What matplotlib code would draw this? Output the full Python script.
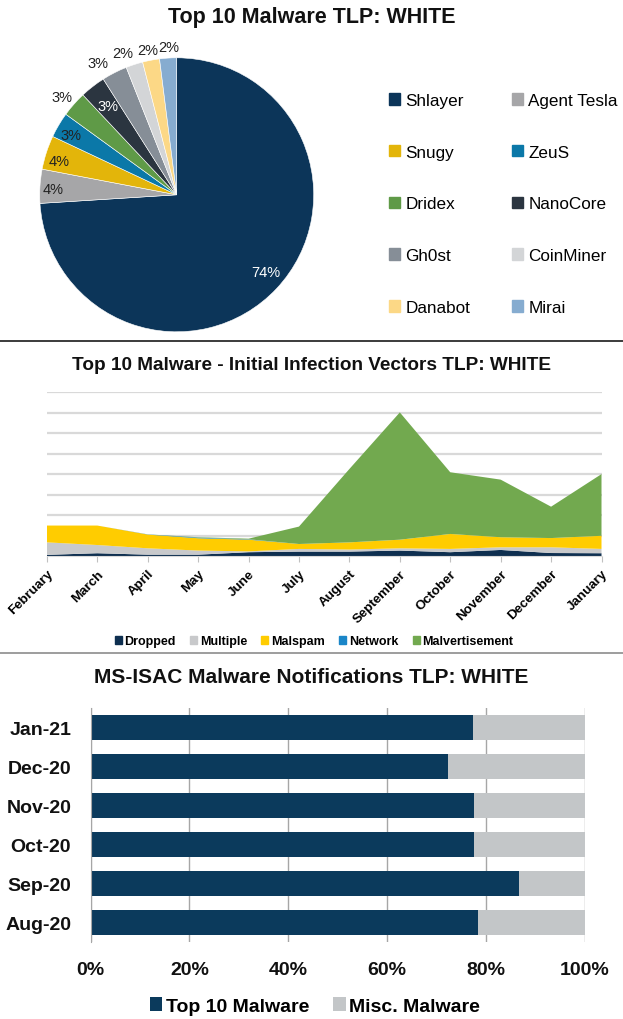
import matplotlib
matplotlib.use('Agg')
import matplotlib.pyplot as plt
import numpy as np
from matplotlib import font_manager
from matplotlib.lines import Line2D
from matplotlib.patches import Patch

# ---- data -------------------------------------------------------------
pie_names = ['Shlayer', 'Agent Tesla', 'Snugy', 'ZeuS', 'Dridex',
             'NanoCore', 'Gh0st', 'CoinMiner', 'Danabot', 'Mirai']
pie_share = [74, 4, 4, 3, 3, 3, 3, 2, 2, 2]
pie_colors = ['#0c3559', '#a6a6a8', '#e3b50a', '#0b78a8', '#5f9a47',
              '#2b3540', '#868e97', '#d3d5d7', '#fcd886', '#86acd0']

months = ['February', 'March', 'April', 'May', 'June', 'July', 'August',
          'September', 'October', 'November', 'December', 'January']
dropped = [0.7, 1.5, 0.8, 0.8, 2.0, 2.3, 2.3, 2.8, 2.0, 3.1, 1.6, 1.5]
multiple = [6.1, 4.0, 3.1, 2.0, 0.4, 1.3, 1.0, 1.1, 1.6, 1.3, 2.8, 2.1]
malspam = [8.2, 9.5, 6.7, 6.0, 5.7, 2.4, 3.5, 4.2, 7.3, 4.9, 4.5, 6.4]
network = [0.0, 0.0, 0.1, 0.3, 0.2, 0.0, 0.0, 0.0, 0.0, 0.0, 0.0, 0.0]
malvert = [0.0, 0.0, 0.0, 0.2, 0.3, 8.5, 35.8, 62.1, 30.1, 28.1, 15.3, 30.1]
vector_names = ['Dropped', 'Multiple', 'Malspam', 'Network', 'Malvertisement']
vector_colors = ['#0e2f50', '#c8c9cb', '#ffcc00', '#1a86c8', '#72a94f']

notif_months = ['Aug-20', 'Sep-20', 'Oct-20', 'Nov-20', 'Dec-20', 'Jan-21']
top10_share = [78.3, 86.6, 77.5, 77.5, 72.3, 77.3]
misc_share = [21.7, 13.4, 22.5, 22.5, 27.7, 22.7]

W, H = 623, 1020


def fx(px):
    return px / W


def fy(py):
    return 1 - py / H


names = set(f.name for f in font_manager.fontManager.ttflist)
reg = 'Liberation Sans' if 'Liberation Sans' in names else 'DejaVu Sans'

fig = plt.figure(figsize=(W / 100, H / 100), dpi=100)
fig.patch.set_facecolor('white')

# ---- pie ---------------------------------------------------------------
cx, cy, r = 176.7, 195.8, 137
ax1 = fig.add_axes([fx(cx - 1.25 * r), fy(cy + 1.25 * r), 2.5 * r / W, 2.5 * r / H])
wedges, texts, autotexts = ax1.pie(pie_share, colors=pie_colors, startangle=90,
                                   counterclock=False, autopct='%d%%',
                                   wedgeprops=dict(edgecolor='white', linewidth=0.4),
                                   textprops=dict(fontsize=10.5, family=reg))
# label radius and small angle nudge, so the small outside labels do not collide
label_r = [0.86, 0.9, 0.89, 0.89, 1.1, 0.82, 1.12, 1.11, 1.08, 1.08]
label_da = [2, 1, 2, 1, 1, 0, 3.7, 2.8, 0.4, -0.7]
for w, t, lr, da in zip(wedges, autotexts, label_r, label_da):
    ang = np.deg2rad((w.theta1 + w.theta2) / 2 + da)
    t.set_position((lr * np.cos(ang), lr * np.sin(ang)))
    t.set_color('#222222')
autotexts[0].set_color('white')
autotexts[5].set_color('white')

fig.text(0.5, fy(17), 'Top 10 Malware TLP: WHITE', ha='center', va='center',
         fontsize=15.5, fontweight='bold', family=reg, color='#111111')

order = [0, 2, 4, 6, 8, 1, 3, 5, 7, 9]
handles = [Patch(color=pie_colors[i]) for i in order]
fig.legend(handles, [pie_names[i] for i in order], loc='upper left',
           bbox_to_anchor=(fx(389), fy(94)), ncol=2, frameon=False,
           prop=dict(family=reg, size=12.3), handlelength=0.65, handleheight=0.65,
           handletextpad=0.3, labelspacing=2.15, columnspacing=2.45,
           borderaxespad=0, borderpad=0)

# separator lines
fig.add_artist(Line2D([0, 1], [fy(342), fy(342)], color='#1a1a1a', lw=1.2))
fig.add_artist(Line2D([0, 1], [fy(654), fy(654)], color='#8c8c8c', lw=1.2))

# ---- stacked area ------------------------------------------------------
ax2 = fig.add_axes([fx(46.9), fy(557.3), (601.5 - 46.9) / W, 164 / H])
x = np.arange(len(months))
ax2.stackplot(x, dropped, multiple, malspam, network, malvert,
              colors=vector_colors, labels=vector_names, linewidth=0, zorder=2)
ax2.set_xlim(0, len(months) - 1)
ax2.set_ylim(0, 80)
ax2.set_yticks(np.arange(10, 81, 10))
ax2.yaxis.grid(True, color='#d9d9d9', lw=1.6, zorder=0)
ax2.tick_params(axis='y', length=0, labelleft=False)
ax2.set_xticks(x)
ax2.set_xticklabels(months, rotation=45, ha='right', rotation_mode='anchor',
                    fontsize=9.6, fontweight='bold', family=reg)
ax2.tick_params(axis='x', length=4, color='#c0c0c0', pad=4)
for s in ['top', 'right', 'left']:
    ax2.spines[s].set_visible(False)
ax2.spines['bottom'].set_color('#d9d9d9')
ax2.set_axisbelow(True)

fig.text(fx(311), fy(365), 'Top 10 Malware - Initial Infection Vectors TLP: WHITE',
         ha='center', va='center', fontsize=13.7, fontweight='bold', family=reg,
         color='#111111')
fig.legend([Patch(color=c) for c in vector_colors], vector_names, loc='center',
           bbox_to_anchor=(fx(314), fy(642)), ncol=5, frameon=False,
           prop=dict(family=reg, size=9, weight='bold'),
           handlelength=0.56, handleheight=0.62, handletextpad=0.22,
           columnspacing=1.15, borderaxespad=0, borderpad=0)

# ---- horizontal stacked bars -------------------------------------------
ax3 = fig.add_axes([fx(90.6), fy(943), (584.8 - 90.6) / W, 234 / H])
y = np.arange(len(notif_months))
ax3.barh(y, top10_share, height=0.63, color='#0b3a5c', label='Top 10 Malware', zorder=2)
ax3.barh(y, misc_share, left=top10_share, height=0.63, color='#c3c6c8',
         label='Misc. Malware', zorder=2)
ax3.set_xlim(0, 100)
ax3.set_ylim(-0.5, len(notif_months) - 0.5)
ax3.set_xticks(np.arange(0, 101, 20))
ax3.set_xticklabels([f'{v}%' for v in range(0, 101, 20)])
ax3.set_yticks(y)
ax3.set_yticklabels(notif_months)
ax3.xaxis.grid(True, color='#a6a6a6', lw=1, zorder=0)
ax3.set_axisbelow(True)
for s in ['top', 'right', 'bottom']:
    ax3.spines[s].set_visible(False)
ax3.spines['left'].set_color('#a6a6a6')
ax3.tick_params(axis='both', length=0, labelsize=14)
ax3.tick_params(axis='x', pad=14)
ax3.tick_params(axis='y', pad=14)
for lab in ax3.get_xticklabels() + ax3.get_yticklabels():
    lab.set_fontweight('bold')
    lab.set_family(reg)
    lab.set_color('#111111')

fig.text(fx(311), fy(678), 'MS-ISAC Malware Notifications TLP: WHITE',
         ha='center', va='center', fontsize=15, fontweight='bold', family=reg,
         color='#111111')
fig.legend(*ax3.get_legend_handles_labels(), loc='center',
           bbox_to_anchor=(fx(315), fy(1007)), ncol=2, frameon=False,
           prop=dict(family=reg, size=14, weight='bold'),
           handlelength=0.65, handleheight=0.7, handletextpad=0.2,
           columnspacing=1.2, borderaxespad=0, borderpad=0)

fig.savefig('out.png', dpi=100)
